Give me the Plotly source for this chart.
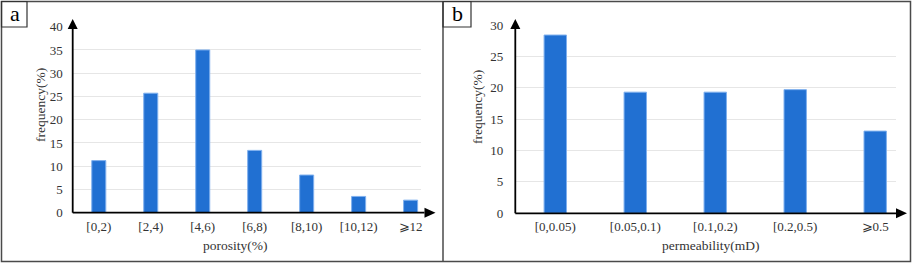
import plotly.graph_objects as go

W, H = 913, 264

# ---- data ----
poro_cats = ["[0,2)", "[2,4)", "[4,6)", "[6,8)", "[8,10)", "[10,12)", "\u2a7e12"]
poro_vals = [11.2, 25.7, 35.0, 13.4, 8.1, 3.5, 2.7]
perm_cats = ["[0,0.05)", "[0.05,0.1)", "[0.1,0.2)", "[0.2,0.5)", "\u2a7e0.5"]
perm_vals = [28.4, 19.3, 19.3, 19.7, 13.1]
poro_yticks = [0, 5, 10, 15, 20, 25, 30, 35, 40]
perm_yticks = [0, 5, 10, 15, 20, 25, 30]


def px(x):
    return x / W


def py(y):
    return 1 - y / H


BAR = "#2170d2"
EDGE = "#7fb0ee"
FONT = "Liberation Serif, Times New Roman, serif"
TXT = "#333333"

fig = go.Figure()
fig.add_trace(go.Bar(x=list(range(len(poro_cats))), y=poro_vals, width=0.27,
                     marker=dict(color=BAR, line=dict(color=EDGE, width=1)),
                     xaxis="x", yaxis="y", showlegend=False))
fig.add_trace(go.Bar(x=list(range(len(perm_cats))), y=perm_vals, width=0.28,
                     marker=dict(color=BAR, line=dict(color=EDGE, width=1)),
                     xaxis="x2", yaxis="y2", showlegend=False))

axfont = dict(family=FONT, size=13, color=TXT)
fig.update_layout(
    width=W, height=H, margin=dict(l=0, r=0, t=0, b=0, autoexpand=False),
    paper_bgcolor="white", plot_bgcolor="white",
    font=axfont,
    xaxis=dict(domain=[px(72.8), px(421)], range=[-0.5, 6.2], automargin=False,
               tickmode="array", tickvals=list(range(len(poro_cats))), ticktext=poro_cats,
               showgrid=False, zeroline=False, showline=False, ticks="",
               ticklabelstandoff=4, tickfont=axfont, anchor="y"),
    yaxis=dict(domain=[py(212.7), py(26.7)], range=[0, 40], automargin=False,
               tickmode="array", tickvals=poro_yticks,
               showgrid=True, gridcolor="#e6e6e6", gridwidth=1, zeroline=False,
               showline=False, ticks="", ticklabelstandoff=9, tickfont=axfont, anchor="x"),
    xaxis2=dict(domain=[px(515.3), px(896)], range=[-0.5, 4.26], automargin=False,
                tickmode="array", tickvals=list(range(len(perm_cats))), ticktext=perm_cats,
                showgrid=False, zeroline=False, showline=False, ticks="",
                ticklabelstandoff=4, tickfont=axfont, anchor="y2"),
    yaxis2=dict(domain=[py(213.3), py(25)], range=[0, 30], automargin=False,
                tickmode="array", tickvals=perm_yticks,
                showgrid=True, gridcolor="#e6e6e6", gridwidth=1, zeroline=False,
                showline=False, ticks="", ticklabelstandoff=11, tickfont=axfont, anchor="x2"),
)

shapes = []
# outer frame and divider
shapes.append(dict(type="rect", xref="paper", yref="paper", x0=px(1.5), x1=px(910.5),
                   y0=py(261.5), y1=py(1.5), line=dict(color="#4a4a4a", width=1.5)))
shapes.append(dict(type="line", xref="paper", yref="paper", x0=px(443), x1=px(443),
                   y0=py(261.5), y1=py(1.5), line=dict(color="#4a4a4a", width=1.5)))
# label boxes
shapes.append(dict(type="rect", xref="paper", yref="paper", x0=px(1.5), x1=px(27),
                   y0=py(27), y1=py(1.5), line=dict(color="#333", width=1.2)))
shapes.append(dict(type="rect", xref="paper", yref="paper", x0=px(443), x1=px(471),
                   y0=py(27), y1=py(1.5), line=dict(color="#333", width=1.2)))


def axes_arrows(x0, y0, ytop, xend):
    # y axis line + arrow
    shapes.append(dict(type="line", xref="paper", yref="paper", x0=px(x0), x1=px(x0),
                       y0=py(y0), y1=py(ytop + 10), line=dict(color="black", width=1.8)))
    shapes.append(dict(type="path", xref="paper", yref="paper",
                       path=f"M {px(x0-5)} {py(ytop+10)} L {px(x0+5)} {py(ytop+10)} L {px(x0)} {py(ytop)} Z",
                       fillcolor="black", line=dict(color="black", width=0)))
    # x axis line + arrow
    shapes.append(dict(type="line", xref="paper", yref="paper", x0=px(x0), x1=px(xend - 11),
                       y0=py(y0), y1=py(y0), line=dict(color="black", width=1.8)))
    shapes.append(dict(type="path", xref="paper", yref="paper",
                       path=f"M {px(xend-11)} {py(y0-5)} L {px(xend-11)} {py(y0+5)} L {px(xend)} {py(y0)} Z",
                       fillcolor="black", line=dict(color="black", width=0)))


axes_arrows(72.7, 212.7, 19, 435.5)
axes_arrows(515.3, 213.3, 19, 907)
fig.update_layout(shapes=shapes)

tfont = dict(family=FONT, size=13.5, color=TXT)
ann = []
ann.append(dict(text="a", x=px(14.5), y=py(14), xref="paper", yref="paper", showarrow=False,
                font=dict(family=FONT, size=22, color="black"), xanchor="center", yanchor="middle"))
ann.append(dict(text="b", x=px(457), y=py(14), xref="paper", yref="paper", showarrow=False,
                font=dict(family=FONT, size=22, color="black"), xanchor="center", yanchor="middle"))
ann.append(dict(text="porosity(%)", x=px(235), y=py(245.5), xref="paper", yref="paper",
                showarrow=False, font=tfont, xanchor="center", yanchor="middle"))
ann.append(dict(text="permeability(mD)", x=px(710), y=py(245.5), xref="paper", yref="paper",
                showarrow=False, font=tfont, xanchor="center", yanchor="middle"))
ann.append(dict(text="frequency(%)", x=px(40), y=py(105), xref="paper", yref="paper",
                showarrow=False, textangle=-90, font=tfont, xanchor="center", yanchor="middle"))
ann.append(dict(text="frequency(%)", x=px(477), y=py(107), xref="paper", yref="paper",
                showarrow=False, textangle=-90, font=tfont, xanchor="center", yanchor="middle"))
fig.update_layout(annotations=ann)

fig.write_html("out.html", config={"displayModeBar": False},
               post_script="document.body.style.margin='0';document.body.style.padding='0';"
                           "document.documentElement.style.overflow='hidden';")
